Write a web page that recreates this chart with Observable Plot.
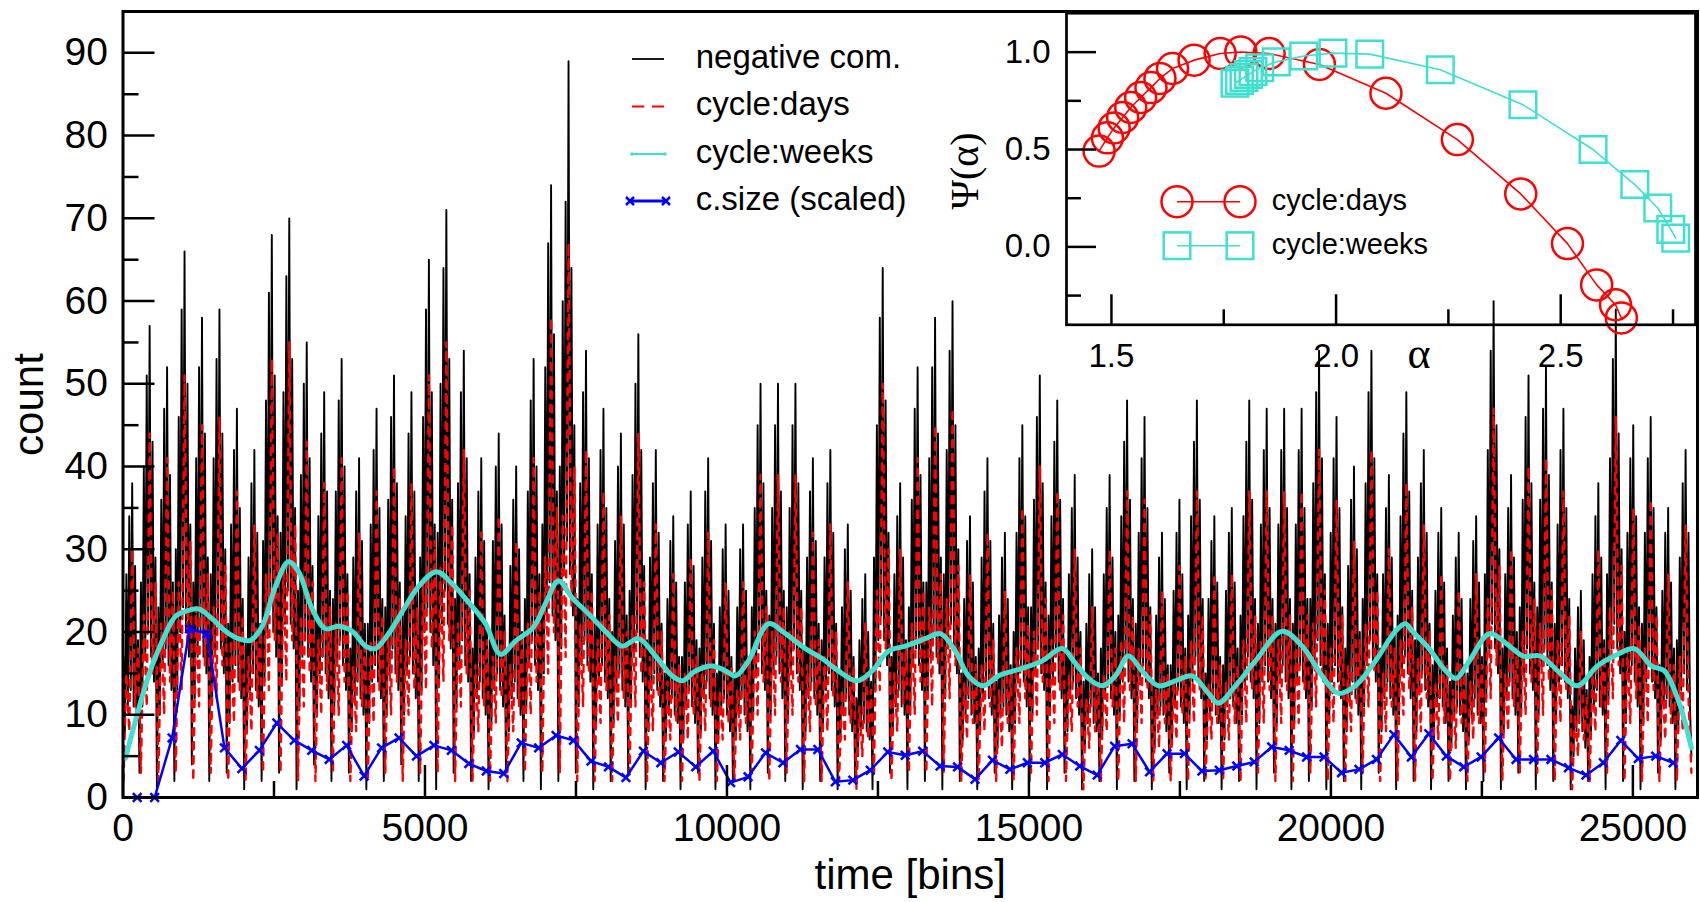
<!DOCTYPE html>
<html><head><meta charset="utf-8">
<script src="https://cdn.jsdelivr.net/npm/d3@7"></script>
<script src="https://cdn.jsdelivr.net/npm/@observablehq/plot@0.6"></script>
<style>
html,body{margin:0;padding:0;background:#fff;}
#wrap{position:relative;width:1700px;height:902px;overflow:hidden;background:#fff;}
#wrap svg{position:absolute;max-width:none;}
</style></head><body><div id="wrap"></div>
<script>
// ---------------- DATA ----------------
const BINS_PER_DAY = 289;
// negative comments, 12 samples per day (90 days)
const negativeCom = [
2,17,8,27,11,34,13,38,11,28,10,19,
3,26,11,40,17,51,20,57,17,43,14,29,
1,23,10,36,16,47,18,52,16,39,13,26,
2,30,13,46,20,59,23,66,20,50,17,33,
4,26,12,41,17,52,20,58,17,44,15,29,
2,27,12,41,18,53,21,59,18,44,15,30,
3,21,9,33,14,42,16,47,14,35,12,24,
1,19,8,29,13,38,15,42,13,32,11,21,
2,31,14,48,20,61,24,68,20,51,17,34,
3,32,14,49,21,63,25,70,21,53,18,35,
1,25,11,39,17,50,19,55,17,41,14,28,
4,22,10,34,15,44,17,49,15,37,12,25,
2,24,11,37,16,48,19,53,16,40,13,27,
3,18,8,29,12,37,14,41,12,31,10,21,
1,21,9,33,14,42,16,47,14,35,12,24,
2,23,10,36,15,46,18,51,15,38,13,26,
4,22,10,34,15,44,17,49,15,37,12,25,
2,29,13,46,20,59,23,65,20,49,16,33,
1,32,14,50,21,64,25,71,21,53,18,36,
3,24,11,38,16,49,19,54,16,41,14,27,
2,18,8,29,12,37,14,41,12,31,10,21,
1,20,9,31,13,40,15,44,13,33,11,22,
3,18,8,28,12,36,14,40,12,30,10,20,
2,24,11,37,16,48,19,53,16,40,13,27,
1,33,15,52,22,67,26,74,22,56,19,37,
2,40,18,60,27,72,31,89,27,64,22,45,
3,24,11,38,16,49,19,54,16,41,14,27,
1,21,9,33,14,42,16,47,14,35,12,24,
2,20,9,31,13,40,15,44,13,33,11,22,
3,25,11,39,17,50,20,56,17,42,14,28,
1,19,8,29,13,38,15,42,13,32,11,21,
2,15,7,24,10,31,12,34,10,26,9,17,
1,17,7,26,11,33,13,37,11,28,9,19,
3,18,8,29,12,37,14,41,12,31,10,21,
1,15,7,23,10,30,12,33,10,25,8,17,
2,15,7,23,10,30,12,33,10,25,8,17,
1,23,10,35,15,45,18,50,15,38,13,25,
3,22,10,35,15,45,17,50,15,37,12,25,
2,23,10,35,15,45,18,50,15,38,13,25,
1,18,8,29,12,37,14,41,12,31,10,21,
2,19,8,29,13,38,15,42,13,32,11,21,
1,15,7,23,10,30,12,33,10,25,8,17,
2,12,5,19,8,24,9,27,8,20,7,14,
1,29,13,45,19,58,22,64,19,48,16,32,
3,17,8,27,11,34,13,38,11,29,10,19,
1,23,10,36,16,47,18,52,16,39,13,26,
2,26,12,41,17,52,20,58,17,44,15,29,
1,27,12,42,18,54,21,60,18,45,15,30,
2,15,7,24,10,31,12,34,10,26,9,17,
1,18,8,29,12,37,14,41,12,31,10,21,
3,14,6,22,10,29,11,32,10,24,8,16,
1,20,9,32,14,41,16,45,14,34,11,23,
2,23,10,36,15,46,18,51,15,38,13,26,
1,22,10,34,14,43,17,48,14,36,12,24,
3,18,8,27,12,35,14,39,12,29,10,20,
1,14,6,21,9,27,11,30,9,23,8,15,
2,18,8,27,12,35,14,39,12,29,10,20,
1,22,10,34,14,43,17,48,14,36,12,24,
2,21,9,32,14,41,16,46,14,35,12,23,
1,14,6,22,10,29,11,32,10,24,8,16,
3,16,7,25,11,32,13,36,11,27,9,18,
1,22,10,34,14,43,17,48,14,36,12,24,
2,15,7,24,10,31,12,34,10,26,9,17,
1,16,7,25,11,32,12,35,11,26,9,18,
2,22,10,34,14,43,17,48,14,36,12,24,
1,21,9,33,14,42,16,47,14,35,12,24,
3,21,9,33,14,42,16,47,14,35,12,24,
1,21,9,33,14,42,16,47,14,35,12,24,
2,24,11,38,16,49,19,54,16,41,14,27,
1,21,9,32,14,41,16,46,14,35,12,23,
2,18,8,28,12,36,14,40,12,30,10,20,
1,24,11,38,16,49,19,54,16,41,14,27,
3,18,8,27,12,35,14,39,12,29,10,20,
1,22,10,34,15,44,17,49,15,37,12,25,
2,19,8,29,13,38,15,42,13,32,11,21,
1,16,7,25,11,32,12,35,11,26,9,18,
2,14,6,22,10,29,11,32,10,24,8,16,
1,15,7,24,10,31,12,34,10,26,9,17,
2,27,12,42,18,54,21,60,18,45,15,30,
1,18,8,27,12,35,14,39,12,29,10,20,
3,23,10,36,15,46,18,51,15,38,13,26,
1,23,10,36,16,47,18,52,16,39,13,26,
2,21,9,33,14,42,16,47,14,35,12,24,
1,11,5,18,8,23,9,25,8,19,6,13,
2,17,8,27,11,34,13,38,11,29,10,19,
1,27,12,41,18,53,21,59,18,44,15,30,
2,20,9,32,14,41,16,45,14,34,11,23,
1,21,9,32,14,41,16,46,14,35,12,23,
3,16,7,25,11,32,12,35,11,26,9,18,
1,19,8,29,13,38,15,42,13,32,11,5
];
// cycle:days fit, 6 samples per day
const cycleDays = [
2,15,8,30,11,18,
3,22,11,44,15,26,
2,21,10,41,14,25,
3,26,13,51,18,31,
2,23,11,45,16,27,
3,23,12,46,16,28,
2,19,9,37,13,22,
2,17,8,33,12,20,
3,27,13,53,19,32,
3,28,14,55,19,33,
2,22,11,43,15,26,
2,19,10,38,13,23,
3,21,10,41,14,25,
2,16,8,32,11,19,
2,19,9,37,13,22,
3,20,10,40,14,24,
2,19,10,38,13,23,
3,26,13,51,18,31,
3,28,14,55,19,33,
2,21,11,42,15,25,
2,16,8,32,11,19,
2,17,9,34,12,20,
2,16,8,31,11,19,
3,21,10,41,14,25,
3,29,15,58,20,35,
3,34,17,67,23,40,
2,21,11,42,15,25,
2,19,9,37,13,22,
2,17,9,34,12,20,
3,22,11,44,15,26,
2,17,8,33,12,20,
2,14,7,27,9,16,
2,15,7,29,10,17,
2,16,8,32,11,19,
2,13,7,26,9,16,
2,13,7,26,9,16,
3,20,10,39,14,23,
2,20,10,39,14,23,
3,20,10,39,14,23,
2,16,8,32,11,19,
2,17,8,33,12,20,
2,13,7,26,9,16,
1,11,5,21,7,13,
3,25,13,50,18,30,
2,15,8,30,11,18,
3,21,10,41,14,25,
3,23,11,45,16,27,
3,24,12,47,16,28,
2,14,7,27,9,16,
2,16,8,32,11,19,
2,13,6,25,9,15,
2,18,9,35,12,21,
3,20,10,40,14,24,
2,19,9,37,13,22,
2,15,8,30,11,18,
1,12,6,23,8,14,
2,15,8,30,11,18,
2,19,9,37,13,22,
2,18,9,36,13,22,
2,13,6,25,9,15,
2,14,7,28,10,17,
2,19,9,37,13,22,
2,14,7,27,9,16,
2,14,7,27,9,16,
2,19,9,37,13,22,
3,19,9,37,13,22,
2,19,9,37,13,22,
2,19,9,37,13,22,
3,21,11,42,15,25,
2,18,9,36,13,22,
2,16,8,31,11,19,
3,21,11,42,15,25,
2,15,8,30,11,18,
2,19,10,38,13,23,
2,17,8,33,12,20,
2,14,7,27,9,16,
2,13,6,25,9,15,
2,14,7,27,9,16,
3,24,12,47,16,28,
2,15,8,30,11,18,
3,20,10,40,14,24,
3,21,10,41,14,25,
2,19,9,37,13,22,
1,10,5,20,7,12,
2,15,8,30,11,18,
3,23,12,46,16,28,
2,18,9,35,12,21,
2,18,9,36,13,22,
2,14,7,27,9,16,
2,17,8,33,12,3
];
// cycle:weeks fit (time in bins, value)
const weeksT = [41,207,422,649,869,1035,1250,1477,1697,1912,2111,2305,2525,2740,2906,3132,3353,3568,3795,4015,4180,4396,4677,4893,5190,5455,5720,6002,6250,6498,6796,7011,7210,7442,7707,7988,8265,8535,8816,9093,9258,9478,9755,9975,10141,10356,10687,10968,11299,11576,11845,12155,12404,12673,12955,13286,13534,13783,13998,14246,14495,14887,15218,15549,15770,15985,16212,16432,16647,16874,17144,17425,17702,17971,18137,18419,18750,19192,19523,19854,20124,20405,20737,21068,21233,21349,21625,21903,22071,22292,22623,22905,23186,23468,23799,24081,24412,24693,25024,25306,25521,25753,25969];
const weeksV = [4.75,9.3,14.7,18.9,21.9,22.5,22.8,21.6,20.1,19.2,19.0,20.7,25.5,28.5,27.3,22.8,20.4,20.7,20.1,18.3,18.0,19.8,23.1,25.5,27.3,25.8,23.6,21.0,17.3,18.9,20.6,23.7,26.2,24.1,22.2,20.1,18.3,19.2,17.1,14.7,14.1,15.3,15.9,15.3,14.7,16.5,21.0,19.8,18.0,16.8,15.3,14.1,15.3,17.7,18.3,19.2,19.8,17.7,14.7,13.5,14.7,15.6,16.5,18.0,16.2,14.4,13.5,14.7,17.1,15.3,13.5,14.1,14.7,12.6,11.4,13.5,16.5,20.1,18.3,14.7,12.6,13.5,16.5,20.1,21.0,20.1,18.0,15.3,14.4,16.5,19.8,18.6,17.1,17.1,15.0,13.5,15.9,17.1,18.0,15.9,15.3,11.7,6.0];
// c.size (scaled), one value per day
const cSizeStart = 235;
const cSize = [0,0,7.2,20.4,19.8,6.0,3.5,5.7,9.0,6.9,
5.7,4.6,6.3,2.6,6.0,7.2,5.0,6.3,5.7,4.1,
3.2,2.9,6.6,6.0,7.5,6.9,4.4,3.7,2.4,5.6,
4.2,5.5,3.7,5.6,1.8,2.5,5.4,4.2,5.8,5.8,
1.9,2.1,3.3,5.5,5.1,5.6,3.8,3.7,2.2,4.5,
3.4,4.2,4.2,5.2,3.8,2.7,6.2,6.5,3.1,5.3,
5.3,3.2,3.3,3.8,4.3,6.1,5.7,4.9,4.9,3.0,
3.4,4.6,7.6,4.9,7.7,5.0,3.7,4.9,7.2,4.6,
4.6,4.6,3.6,2.7,4.2,6.9,4.7,5.0,4.2];
// inset: multifractal spectrum
const alphaDays = [1.4725,1.491,1.506,1.525,1.543,1.565,1.588,1.608,1.636,1.684,1.742,1.788,1.851,1.963,2.111,2.270,2.411,2.515,2.580,2.622,2.635];
const psiDays   = [0.492,0.560,0.611,0.665,0.716,0.767,0.818,0.865,0.916,0.959,0.993,1.001,0.993,0.937,0.789,0.551,0.272,0.017,-0.195,-0.297,-0.365];
const alphaWeeks = [1.775,1.785,1.795,1.805,1.815,1.830,1.867,1.928,1.993,2.075,2.232,2.416,2.572,2.665,2.716,2.745,2.756];
const psiWeeks   = [0.840,0.855,0.870,0.885,0.900,0.920,0.950,0.980,0.995,0.990,0.910,0.730,0.500,0.320,0.200,0.090,0.045];
// ticks and labels
const xMajor = [0,5000,10000,15000,20000,25000];
const xMinor = [2500,7500,12500,17500,22500];
const yMajor = [0,10,20,30,40,50,60,70,80,90];
const yMinor = [5,15,25,35,45,55,65,75,85];
const inXMajor = [1.5,2.0,2.5];
const inXMinor = [1.75,2.25,2.75];
const inYMajor = [0,0.5,1.0];
const inYMinor = [-0.25,0.25,0.75];
const legendMain = ["negative com.","cycle:days","cycle:weeks","c.size (scaled)"];
const legendInset = ["cycle:days","cycle:weeks"];

// ---------------- BUILD ----------------
const FONT = '"Liberation Sans", Arial, Helvetica, sans-serif';
const SERIF = '"Liberation Serif", "DejaVu Serif", serif';
const RED = "#ff0000", TEAL = "#40e0d0", BLUE = "#0000ff";
const W = 1700, H = 902;
const mL = 122.5, mR = 3, mT = 11, mB = 105;
const fW = W - mL - mR, fH = H - mT - mB;

const blackData = negativeCom.map((v, i) => ({t: -16.6 + i * BINS_PER_DAY / 12, v}));
const redData = cycleDays.map((v, i) => ({t: 7.5 + i * BINS_PER_DAY / 6, v}));
const tealData = weeksT.map((t, i) => ({t, v: weeksV[i]}));
const blueData = cSize.map((v, i) => ({t: cSizeStart + i * BINS_PER_DAY, v}));

const main = Plot.plot({
  width: W, height: H,
  marginLeft: mL, marginRight: mR, marginTop: mT, marginBottom: mB,
  x: {domain: [0, 26070]},
  y: {domain: [0, 95]},
  style: {fontFamily: FONT, background: "white", color: "black", overflow: "visible"},
  marks: [
    Plot.line(blackData, {x: "t", y: "v", stroke: "black", strokeWidth: 1.9, clip: true}),
    Plot.line(redData, {x: "t", y: "v", stroke: RED, strokeWidth: 2.4, strokeDasharray: "7,7", clip: true}),
    Plot.line(tealData, {x: "t", y: "v", stroke: TEAL, strokeWidth: 5, curve: "catmull-rom", clip: true}),
    Plot.line(blueData, {x: "t", y: "v", stroke: BLUE, strokeWidth: 2.5}),
    Plot.dot(blueData, {x: "t", y: "v", symbol: "times", r: 4, stroke: BLUE, strokeWidth: 2.5}),
    Plot.tickY(yMajor, {y: d => d, insetRight: fW - 32, stroke: "black", strokeWidth: 2.5}),
    Plot.tickY(yMinor, {y: d => d, insetRight: fW - 16, stroke: "black", strokeWidth: 2.5}),
    Plot.tickX(xMajor, {x: d => d, insetTop: fH - 32, stroke: "black", strokeWidth: 2.5}),
    Plot.tickX(xMinor, {x: d => d, insetTop: fH - 16, stroke: "black", strokeWidth: 2.5}),
    Plot.frame({stroke: "black", strokeWidth: 3}),
    Plot.axisY({ticks: yMajor, tickSize: 0, tickPadding: 15, fontSize: 39, label: null, tickFormat: d => String(d)}),
    Plot.axisX({ticks: xMajor, tickSize: 0, tickPadding: 16, fontSize: 39, label: null, tickFormat: d => String(d)}),
    Plot.text(["count"], {text: d => d, frameAnchor: "left", textAnchor: "middle", lineAnchor: "middle", dx: -93, rotate: -90, fontSize: 42, fill: "black"}),
    Plot.text(["time [bins]"], {text: d => d, frameAnchor: "bottom", textAnchor: "middle", lineAnchor: "middle", dy: 78, fontSize: 42, fill: "black"})
  ]
});
main.style.left = "0px"; main.style.top = "0px";
document.getElementById("wrap").appendChild(main);

// inset
const iW = 760, iH = 380, imL = 126, imR = 5, imT = 12.7, imB = 55.7;
const ifW = iW - imL - imR, ifH = iH - imT - imB;
const daysPts = alphaDays.map((a, i) => ({a, p: psiDays[i]}));
const weeksPts = alphaWeeks.map((a, i) => ({a, p: psiWeeks[i]}));
const inset = Plot.plot({
  width: iW, height: iH,
  marginLeft: imL, marginRight: imR, marginTop: imT, marginBottom: imB,
  x: {domain: [1.4, 2.8]},
  y: {domain: [-0.4, 1.2]},
  style: {fontFamily: FONT, background: "transparent", color: "black", overflow: "visible"},
  marks: [
    Plot.line(daysPts, {x: "a", y: "p", stroke: RED, strokeWidth: 1.6}),
    Plot.dot(daysPts, {x: "a", y: "p", r: 15.5, stroke: RED, strokeWidth: 2.5, fill: "none"}),
    Plot.line(weeksPts, {x: "a", y: "p", stroke: TEAL, strokeWidth: 1.6}),
    Plot.dot(weeksPts, {x: "a", y: "p", symbol: "square", r: 15, stroke: TEAL, strokeWidth: 2.5, fill: "none"}),
    Plot.tickY(inYMajor, {y: d => d, insetRight: ifW - 30, stroke: "black", strokeWidth: 2.5}),
    Plot.tickY(inYMinor, {y: d => d, insetRight: ifW - 15, stroke: "black", strokeWidth: 2.5}),
    Plot.tickX(inXMajor, {x: d => d, insetTop: ifH - 30, stroke: "black", strokeWidth: 2.5}),
    Plot.tickX(inXMinor, {x: d => d, insetTop: ifH - 15, stroke: "black", strokeWidth: 2.5}),
    Plot.frame({stroke: "black", strokeWidth: 2.7}),
    Plot.axisY({ticks: inYMajor, tickSize: 0, tickPadding: 16, fontSize: 33, label: null, tickFormat: d3.format(".1f")}),
    Plot.axisX({ticks: inXMajor, tickSize: 0, tickPadding: 19, fontSize: 33, label: null, tickFormat: d3.format(".1f")}),
    Plot.text(["α"], {text: d => d, frameAnchor: "bottom", textAnchor: "middle", lineAnchor: "middle", dx: 38, dy: 29, fontSize: 44, fontFamily: SERIF, fill: "black"}),
    Plot.text(["Ψ(α)"], {text: d => d, frameAnchor: "left", textAnchor: "middle", lineAnchor: "middle", dx: -101, dy: 2, rotate: -90, fontSize: 40, fontFamily: SERIF, fill: "black"})
  ]
});
inset.style.left = "940px"; inset.style.top = "0px";
document.getElementById("wrap").appendChild(inset);

// legends overlay
const ov = d3.select("#wrap").append("svg")
  .attr("width", W).attr("height", H)
  .style("left", "0px").style("top", "0px")
  .attr("font-family", FONT);

const rowY = [59, 106.5, 154, 201];
const lg = ov.append("g");
legendMain.forEach((label, i) => {
  lg.append("text").attr("x", 695.7).attr("y", rowY[i] + 8.5)
    .attr("font-size", 33).attr("fill", "black").text(label);
});
lg.append("line").attr("x1", 632).attr("x2", 664).attr("y1", rowY[0]).attr("y2", rowY[0])
  .attr("stroke", "black").attr("stroke-width", 1.8);
lg.append("line").attr("x1", 632).attr("x2", 664).attr("y1", rowY[1]).attr("y2", rowY[1])
  .attr("stroke", RED).attr("stroke-width", 2.2).attr("stroke-dasharray", "12.3,7.7");
lg.append("line").attr("x1", 632).attr("x2", 665).attr("y1", rowY[2]).attr("y2", rowY[2])
  .attr("stroke", TEAL).attr("stroke-width", 2);
[632, 665].forEach(x => lg.append("circle").attr("cx", x).attr("cy", rowY[2]).attr("r", 1.8).attr("fill", TEAL));
lg.append("line").attr("x1", 630).attr("x2", 666).attr("y1", rowY[3]).attr("y2", rowY[3])
  .attr("stroke", BLUE).attr("stroke-width", 3);
[630, 666].forEach(x => lg.append("path")
  .attr("d", `M${x-4},${rowY[3]-4}L${x+4},${rowY[3]+4}M${x-4},${rowY[3]+4}L${x+4},${rowY[3]-4}`)
  .attr("stroke", BLUE).attr("stroke-width", 2.5));

// inset legend
const il = ov.append("g");
const ilY = [201.7, 245.7];
il.append("line").attr("x1", 1177).attr("x2", 1240).attr("y1", ilY[0]).attr("y2", ilY[0])
  .attr("stroke", RED).attr("stroke-width", 1.6);
[1177, 1240].forEach(x => il.append("circle").attr("cx", x).attr("cy", ilY[0]).attr("r", 15.5)
  .attr("fill", "none").attr("stroke", RED).attr("stroke-width", 2.5));
il.append("line").attr("x1", 1177).attr("x2", 1240).attr("y1", ilY[1]).attr("y2", ilY[1])
  .attr("stroke", TEAL).attr("stroke-width", 1.6);
[1177, 1240].forEach(x => il.append("rect").attr("x", x - 13.3).attr("y", ilY[1] - 13.3)
  .attr("width", 26.6).attr("height", 26.6)
  .attr("fill", "none").attr("stroke", TEAL).attr("stroke-width", 2.5));
legendInset.forEach((label, i) => {
  il.append("text").attr("x", 1271.7).attr("y", ilY[i] + 8.5)
    .attr("font-size", 29).attr("fill", "black").text(label);
});
</script></body></html>
